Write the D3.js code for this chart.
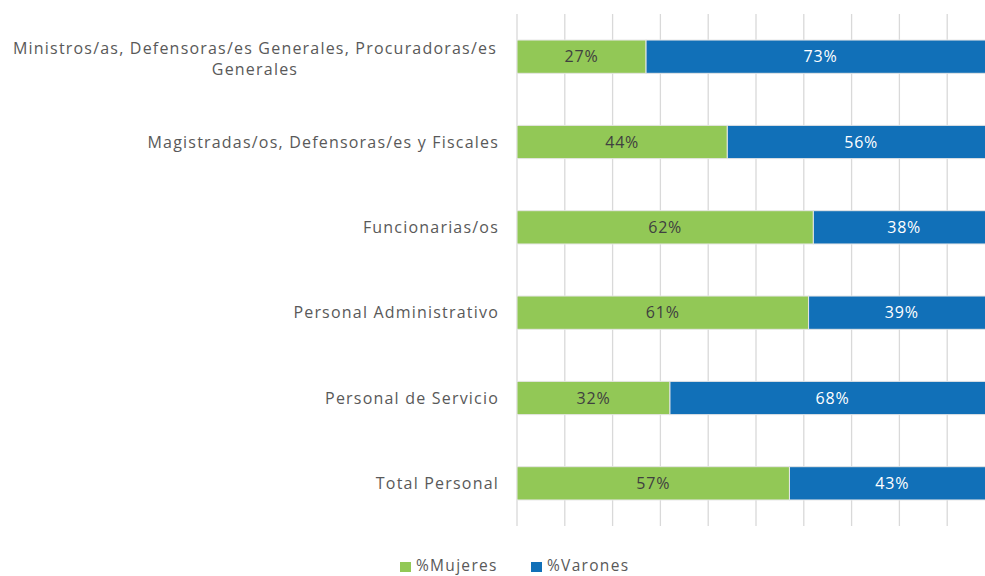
<!DOCTYPE html>
<html>
<head>
<meta charset="utf-8">
<script src="https://cdn.jsdelivr.net/npm/d3@7"></script>
<style>
  body { margin: 0; background: #fff; }
  svg { display: block; }
</style>
</head>
<body>
<div id="chart"></div>
<script>

//Categories and values (percent)
var categories = [
    "Ministros/as, Defensoras/es Generales, Procuradoras/es Generales",
    "Magistradas/os, Defensoras/es y Fiscales",
    "Funcionarias/os",
    "Personal Administrativo",
    "Personal de Servicio",
    "Total Personal"
];
var mujeres = [27, 44, 62, 61, 32, 57];
var varones = [73, 56, 38, 39, 68, 43];
var seriesNames = ["%Mujeres", "%Varones"];
var seriesColors = ["#92C856", "#1170B8"];
var ticks = [0, 10, 20, 30, 40, 50, 60, 70, 80, 90, 100];

var makeChart = function() {

    //Width and Height
    var w = 985;
    var h = 576;
    var font = "'Open Sans', sans-serif";

    var x = d3.scaleLinear()
        .domain([0, 100])
        .range([517, 995]);

    var y = d3.scaleBand()
        .domain(categories)
        .range([14, 526])
        .paddingInner(0.61)
        .paddingOuter(0.305);

    var chart = d3.select("#chart")
        .append("svg")
        .attr("width", w)
        .attr("height", h);

    //Gridlines
    chart.append("g")
        .attr("class", "grid")
        .selectAll("line")
        .data(ticks)
        .enter()
        .append("line")
        .attr("x1", d => x(d))
        .attr("x2", d => x(d))
        .attr("y1", 14)
        .attr("y2", 526)
        .style("stroke", "#D9D9D9")
        .style("stroke-width", 1.3);

    //Stack data
    var rows = categories.map((c, i) => ({cat: c, m: mujeres[i], v: varones[i]}));
    var stack = d3.stack().keys(["m", "v"])(rows);

    var layers = chart.append("g")
        .attr("class", "bars")
        .selectAll("g")
        .data(stack)
        .enter()
        .append("g")
        .style("fill", (d, i) => seriesColors[i]);

    layers.selectAll("rect")
        .data(d => d)
        .enter()
        .append("rect")
        .attr("x", d => x(d[0]))
        .attr("y", d => y(d.data.cat))
        .attr("width", d => x(d[1]) - x(d[0]))
        .attr("height", y.bandwidth())
        .style("stroke", "#E6E6E6")
        .style("stroke-width", 1);

    //Value labels
    layers.selectAll("text")
        .data((d, i) => d.map(p => ({p: p, i: i})))
        .enter()
        .append("text")
        .attr("x", d => (x(d.p[0]) + x(d.p[1])) / 2)
        .attr("y", d => y(d.p.data.cat) + y.bandwidth() / 2)
        .attr("dy", "0.35em")
        .attr("text-anchor", "middle")
        .style("fill", d => d.i == 0 ? "#404040" : "#FFFFFF")
        .style("font-family", font)
        .style("font-size", "16px")
        .style("letter-spacing", "0.8px")
        .text(d => (d.p[1] - d.p[0]) + "%");

    //Category labels (wrap the long one)
    var labels = chart.append("g")
        .attr("class", "labels")
        .selectAll("text")
        .data(categories)
        .enter()
        .append("text")
        .style("fill", "#595959")
        .style("font-family", font)
        .style("font-size", "16px")
        .style("letter-spacing", "1.2px");

    labels.each(function(d) {
        var t = d3.select(this);
        var cy = y(d) + y.bandwidth() / 2;
        if (d.length > 50) {
            var lines = ["Ministros/as, Defensoras/es Generales, Procuradoras/es", "Generales"];
            t.attr("text-anchor", "middle");
            lines.forEach((l, k) => {
                t.append("tspan")
                    .attr("x", 255)
                    .attr("y", cy - 8 + k * 21)
                    .attr("dy", "0.35em")
                    .text(l);
            });
        } else {
            t.attr("text-anchor", "end")
                .attr("x", 499)
                .attr("y", cy)
                .attr("dy", "0.35em")
                .text(d);
        }
    });

    //Legend
    var legend = chart.append("g")
        .attr("class", "legend")
        .selectAll("g")
        .data(seriesNames)
        .enter()
        .append("g")
        .attr("transform", (d, i) => "translate(" + (400 + i * 131) + ",562)");

    legend.append("rect")
        .attr("width", 11)
        .attr("height", 10)
        .style("fill", (d, i) => seriesColors[i]);

    legend.append("text")
        .attr("x", 16)
        .attr("y", 4)
        .attr("dy", "0.35em")
        .style("fill", "#595959")
        .style("font-family", font)
        .style("font-size", "15.5px")
        .style("letter-spacing", "1.3px")
        .text(d => d);
}

makeChart();
</script>
</body>
</html>
